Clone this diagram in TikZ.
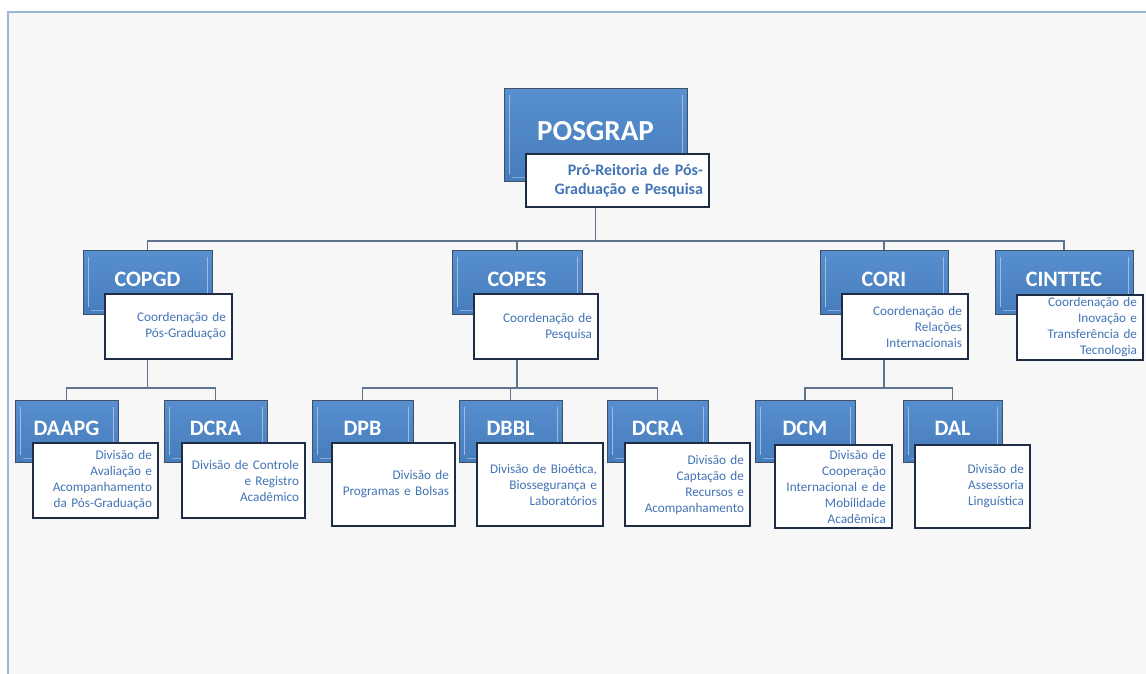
\documentclass[tikz,border=0pt]{standalone}
\usepackage{fontspec}
\setmainfont{Carlito}
\usepackage{tikz}
\usetikzlibrary{positioning, calc, backgrounds}
\definecolor{unitBlue}{RGB}{79, 134, 198}
\definecolor{unitTop}{RGB}{88, 143, 206}
\definecolor{unitBot}{RGB}{70, 124, 188}
\definecolor{unitEdge}{RGB}{62, 80, 104}
\definecolor{descEdge}{RGB}{30, 45, 68}
\definecolor{descText}{RGB}{66, 116, 182}
\definecolor{linkGray}{RGB}{96, 116, 142}
\definecolor{frameBlue}{RGB}{155, 183, 217}
\definecolor{paper}{RGB}{247, 247, 247}

\begin{document}
\begin{tikzpicture}[
    x=1pt, y=-1pt,
    % Styles
    unit_box/.style={
        draw=unitEdge, line width=1pt, top color=unitTop, bottom color=unitBot,
        text=white, font=\fontsize{22}{25}\selectfont\bfseries, inner sep=0pt, text depth=6pt,
        path picture={
            \draw[white!45!unitBlue, line width=1pt]
                ([xshift=5pt, yshift=-7pt]path picture bounding box.north west) -- ([xshift=5pt, yshift=7pt]path picture bounding box.south west)
                ([xshift=-5pt, yshift=-7pt]path picture bounding box.north east) -- ([xshift=-5pt, yshift=7pt]path picture bounding box.south east);
            \draw[white!30!unitBlue, line width=1pt]
                ([xshift=8pt, yshift=4pt]path picture bounding box.south west) -- ([xshift=-8pt, yshift=4pt]path picture bounding box.south east);
        }
    },
    desc_box/.style={
        draw=descEdge, line width=1.3pt, fill=white, text=descText, align=right,
        inner xsep=6pt, inner ysep=0pt, font=\fontsize{13.2}{16}\selectfont
    },
    link/.style={draw=linkGray, line width=1.3pt}
]
    \useasboundingbox (0,0) rectangle (1146,673);

    % --- 1. Pro-Reitoria ---
    \node[unit_box, minimum width=183pt, minimum height=93pt, font=\fontsize{29}{33}\selectfont\bfseries, text depth=7pt] (posgrap) at (595.5,134.5) {POSGRAP};
    \node[desc_box, text width=171pt, minimum height=53pt, font=\fontsize{16}{19}\selectfont\bfseries] (posgrapD) at (617.5,180.5) {Pró-Reitoria de Pós-\\Graduação e Pesquisa};

    % --- 2. Coordenacoes ---
    \node[unit_box, minimum width=129pt, minimum height=64pt] (copgd) at (147.5,282) {COPGD};
    \node[desc_box, text width=115pt, minimum height=65pt] (copgdD) at (168.5,326.5) {Coordenação de\\Pós-Graduação};

    \node[unit_box, minimum width=130pt, minimum height=64pt] (copes) at (517,282) {COPES};
    \node[desc_box, text width=112pt, minimum height=65pt] (copesD) at (536,326.5) {Coordenação de\\Pesquisa};

    \node[unit_box, minimum width=128pt, minimum height=64pt] (cori) at (884,282) {CORI};
    \node[desc_box, text width=114pt, minimum height=65pt] (coriD) at (905,326.5) {Coordenação de\\Relações\\Internacionais};

    \node[unit_box, minimum width=138pt, minimum height=64pt] (cinttec) at (1064,282) {CINTTEC};
    \node[desc_box, text width=114pt, minimum height=65pt] (cinttecD) at (1080,327.5) {Coordenação de\\Inovação e\\Transferência de\\Tecnologia};

    % --- 3. Divisoes ---
    \node[unit_box, minimum width=103pt, minimum height=62pt] (daapg) at (66.5,431) {DAAPG};
    \node[desc_box, text width=113pt, minimum height=75pt] (daapgD) at (95.5,480.5) {Divisão de\\Avaliação e\\Acompanhamento\\da Pós-Graduação};

    \node[unit_box, minimum width=103pt, minimum height=62pt] (dcraA) at (215.5,431) {DCRA};
    \node[desc_box, text width=111pt, minimum height=75pt] (dcraAD) at (243.5,480.5) {Divisão de Controle\\e Registro\\Acadêmico};

    \node[unit_box, minimum width=101pt, minimum height=62pt] (dpb) at (362.5,431) {DPB};
    \node[desc_box, text width=111pt, minimum height=83pt] (dpbD) at (393.5,484.5) {Divisão de\\Programas e Bolsas};

    \node[unit_box, minimum width=103pt, minimum height=62pt] (dbbl) at (510.5,431) {DBBL};
    \node[desc_box, text width=114pt, minimum height=83pt] (dbblD) at (540,484.5) {Divisão de Bioética,\\Biossegurança e\\Laboratórios};

    \node[unit_box, minimum width=101pt, minimum height=62pt] (dcraB) at (657.5,431) {DCRA};
    \node[desc_box, text width=113pt, minimum height=83pt] (dcraBD) at (687.5,484.5) {Divisão de\\Captação de\\Recursos e\\Acompanhamento};

    \node[unit_box, minimum width=100pt, minimum height=62pt] (dcm) at (805,431) {DCM};
    \node[desc_box, text width=105pt, minimum height=83pt] (dcmD) at (833.5,486.5) {Divisão de\\Cooperação\\Internacional e de\\Mobilidade\\Acadêmica};

    \node[unit_box, minimum width=99pt, minimum height=62pt] (dal) at (952.5,431) {DAL};
    \node[desc_box, text width=103pt, minimum height=83pt] (dalD) at (972.5,486.5) {Divisão de\\Assessoria\\Linguística};

    % --- Frame & connections (behind the boxes) ---
    \begin{pgfonlayer}{background}
        \fill[white] (0,0) rectangle (1146,673);
        \draw[frameBlue, line width=2pt, fill=paper] (8,12) rectangle (1170,700);

        \draw[link] (posgrap.center) -- ++(0,106.5) coordinate (bus1);
        \draw[link] (copgd.center) |- (bus1) -| (cinttec.center);
        \draw[link] (copes.center) -- (copes.center |- bus1);
        \draw[link] (cori.center) -- (cori.center |- bus1);

        \draw[link] (copgd.center) -- ++(0,106) coordinate (bus2);
        \draw[link] (daapg.center) |- (bus2) -| (dcraA.center);

        \draw[link] (copes.center) -- ++(0,106) coordinate (bus3);
        \draw[link] (dpb.center) |- (bus3) -| (dcraB.center);
        \draw[link] (dbbl.center) -- (dbbl.center |- bus3);

        \draw[link] (cori.center) -- ++(0,106) coordinate (bus4);
        \draw[link] (dcm.center) |- (bus4) -| (dal.center);
    \end{pgfonlayer}

\end{tikzpicture}
\end{document}
